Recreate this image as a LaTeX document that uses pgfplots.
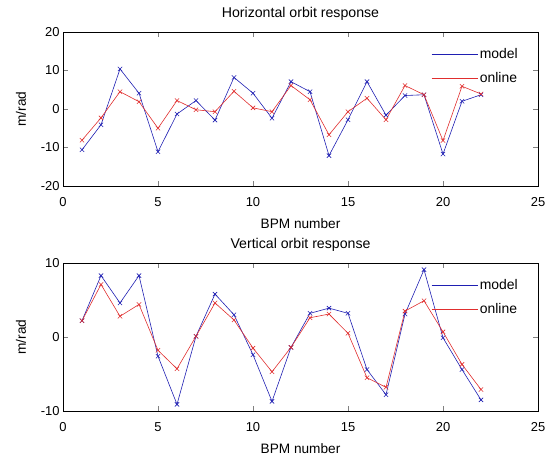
\documentclass[border=0pt]{standalone}
\usepackage{fontspec}
\setmainfont{Liberation Sans}
\usepackage{pgfplots}
\pgfplotsset{compat=1.18}
\definecolor{mblue}{rgb}{0.12,0.12,0.7}
\definecolor{mred}{rgb}{0.88,0.18,0.18}
\pgfplotsset{
  mystyle/.style={
    scale only axis,
    width=475bp,
    xmin=0, xmax=25,
    xtick={0,5,10,15,20,25},
    tick align=inside,
    tick pos=both,
    major tick length=5bp,
    /pgf/number format/assume math mode=true,
    tick label style={font=\fontsize{13}{14}\selectfont},
    label style={font=\fontsize{13.7}{15}\selectfont},
    title style={font=\fontsize{14.2}{15}\selectfont, yshift=2bp},
    xticklabel style={yshift=-8bp},
    xlabel={BPM number},
    ylabel={m/rad},
    xlabel style={yshift=-5.5bp},
    ylabel style={yshift=8bp},
    legend style={draw=none, fill=none, at={(1,1)}, anchor=north east,
      xshift=-17bp, yshift=-13bp,
      font=\fontsize{14}{15}\selectfont, row sep=9bp, inner sep=1bp},
    legend cell align=left,
    legend image code/.code={\draw[#1] (0bp,0bp) -- (46bp,0bp);},
    axis line style={line width=0.6pt},
  },
  pm/.style={mblue, line width=0.6pt, mark=x, mark size=3bp, mark options={solid}},
  po/.style={mred, line width=0.6pt, mark=x, mark size=3bp, mark options={solid}},
}
\begin{document}
\begin{tikzpicture}
\path[use as bounding box] (0,0) rectangle (552bp,-458bp);
\begin{axis}[mystyle, at={(63bp,-32bp)}, anchor=north west, height=154bp,
  ymin=-20, ymax=20, ytick={-20,-10,0,10,20},
  title={Horizontal orbit response}]
\addplot[pm] coordinates {(1,-10.6) (2,-4.1) (3,10.4) (4,4.1) (5,-11.1) (6,-1.3) (7,2.2) (8,-2.9) (9,8.2) (10,4.1) (11,-2.4) (12,7.1) (13,4.5) (14,-12.1) (15,-2.8) (16,7.1) (17,-1.6) (18,3.5) (19,3.7) (20,-11.7) (21,2.0) (22,3.7)};
\addlegendentry{model}
\addplot[po] coordinates {(1,-8.1) (2,-2.3) (3,4.5) (4,1.9) (5,-5.0) (6,2.2) (7,-0.2) (8,-0.7) (9,4.6) (10,0.3) (11,-0.7) (12,6.1) (13,2.4) (14,-6.7) (15,-0.7) (16,2.8) (17,-2.8) (18,6.1) (19,3.7) (20,-8.2) (21,5.9) (22,3.9)};
\addlegendentry{online}
\end{axis}
\begin{axis}[mystyle, at={(63bp,-263bp)}, anchor=north west, height=148bp,
  ymin=-10, ymax=10, ytick={-10,0,10},
  title={Vertical orbit response}]
\addplot[pm] coordinates {(1,2.2) (2,8.3) (3,4.6) (4,8.3) (5,-2.6) (6,-9.1) (7,0.1) (8,5.8) (9,3.0) (10,-2.4) (11,-8.7) (12,-1.4) (13,3.2) (14,3.9) (15,3.2) (16,-4.4) (17,-7.8) (18,3.1) (19,9.1) (20,-0.1) (21,-4.4) (22,-8.5)};
\addlegendentry{model}
\addplot[po] coordinates {(1,2.2) (2,7.1) (3,2.8) (4,4.4) (5,-1.8) (6,-4.3) (7,0.1) (8,4.6) (9,2.3) (10,-1.5) (11,-4.7) (12,-1.4) (13,2.6) (14,3.1) (15,0.5) (16,-5.5) (17,-6.8) (18,3.5) (19,4.9) (20,0.7) (21,-3.7) (22,-7.1)};
\addlegendentry{online}
\end{axis}
\end{tikzpicture}
\end{document}
